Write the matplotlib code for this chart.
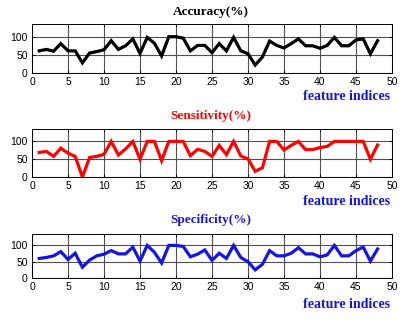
import numpy as np
import matplotlib
matplotlib.use("Agg")
import matplotlib.pyplot as plt

# feature indices 1..48
features = list(range(1, 49))

accuracy = [61, 65, 60, 81, 61, 61, 28, 55, 59, 64,
            89, 65, 75, 94, 54, 98, 82, 47, 100, 100,
            96, 61, 76, 76, 56, 81, 61, 98, 61, 53,
            22, 44, 88, 76, 69, 81, 94, 75, 75, 68,
            76, 98, 75, 75, 91, 94, 53, 89]

sensitivity = [69, 72, 58, 81, 67, 58, 0, 55, 58, 64,
               100, 62, 79, 100, 50, 100, 100, 46, 100, 100,
               100, 60, 78, 72, 58, 89, 63, 100, 59, 51,
               16, 26, 100, 100, 76, 89, 100, 77, 77, 83,
               86, 100, 100, 100, 100, 100, 50, 90]

specificity = [60, 63, 68, 81, 57, 76, 33, 55, 68, 73,
               84, 74, 74, 95, 52, 100, 79, 46, 100, 100,
               97, 65, 73, 86, 54, 76, 60, 100, 63, 50,
               25, 42, 84, 68, 68, 76, 93, 74, 74, 65,
               71, 100, 68, 68, 84, 95, 52, 89]

panels = [
    ("Accuracy(%)", accuracy, "black"),
    ("Sensitivity(%)", sensitivity, "#ff0000"),
    ("Specificity(%)", specificity, "#1414e6"),
]

W, H = 409, 323
fig = plt.figure(figsize=(W / 100, H / 100), dpi=100)
fig.patch.set_facecolor("white")

# axes boxes in pixels: (top, bottom)
boxes = [(24, 73), (129, 177), (234, 278)]
left_px, right_px = 32, 392
title_y = [11.5, 115.5, 220]
xlabel_y = [96, 201.5, 304]

for (title, vals, col), (top, bot), ty, xy in zip(panels, boxes, title_y, xlabel_y):
    ax = fig.add_axes([left_px / W, 1 - bot / H, (right_px - left_px) / W, (bot - top) / H])
    ax.plot(features, vals, color=col, linewidth=2.3, solid_joinstyle="miter")
    ax.set_xlim(0, 50)
    ax.set_ylim(0, 135)
    ax.set_xticks(range(0, 51, 5))
    ax.set_yticks([0, 50, 100])
    ax.grid(True, color="#505050", linewidth=0.8)
    ax.tick_params(direction="in", length=2.5, width=0.6, top=True, right=True,
                   labelsize=7.5, pad=3, colors="black")
    for lab in ax.get_xticklabels() + ax.get_yticklabels():
        lab.set_family("Liberation Sans")
    for s in ax.spines.values():
        s.set_linewidth(0.7)
    fig.text(211 / W, 1 - ty / H, title, color=col,
             family="Liberation Serif", fontweight="bold", fontsize=9.5,
             ha="center", va="center")
    fig.text(390 / W, 1 - xy / H, "feature indices", color="#1414e6",
             family="Liberation Serif", fontweight="bold", fontsize=10,
             ha="right", va="center")

fig.savefig("out.png", dpi=100, facecolor="white")
